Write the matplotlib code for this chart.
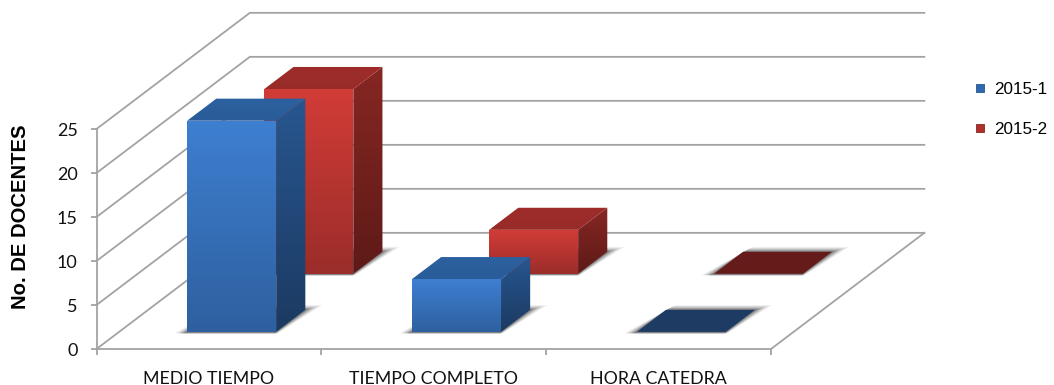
import numpy as np
import matplotlib
matplotlib.use("Agg")
import matplotlib.pyplot as plt
from matplotlib.lines import Line2D
from matplotlib.patches import Polygon

categories = ["MEDIO TIEMPO", "TIEMPO COMPLETO", "HORA CATEDRA"]
series_names = ["2015-1", "2015-2"]
values_2015_1 = [24, 6, 0]
values_2015_2 = [21, 5, 0]
y_ticks = [0, 5, 10, 15, 20, 25]

# depth of the 3d box, in data units
DX = 0.682
DY = 13.2
GRID = "#a3a3a3"

fig = plt.figure(figsize=(10.54, 3.85), dpi=100)
ax = fig.add_axes([96.5 / 1054, 36 / 385, 674.5 / 1054, 220 / 385])
ax.set_xlim(0, 3)
ax.set_ylim(0, 25)


def proj(x, depth, y):
    return (x + depth * DX, y + depth * DY)


def face(points, colors, z):
    """polygon filled with a vertical gradient, colors go bottom to top"""
    poly = Polygon(points, closed=True, transform=ax.transData, fc="none", ec="none")
    ax.add_patch(poly)
    poly.set_clip_on(False)
    xs = [p[0] for p in points]
    ys = [p[1] for p in points]
    c0 = np.array(matplotlib.colors.to_rgb(colors[0]))
    c1 = np.array(matplotlib.colors.to_rgb(colors[1]))
    t = np.linspace(0, 1, 64)[:, None]
    grad = (c0 + (c1 - c0) * t)[:, None, :]
    im = ax.imshow(grad, extent=(min(xs), max(xs), min(ys), max(ys)), origin="lower",
                   aspect="auto", zorder=z, interpolation="bilinear")
    im.set_clip_box(fig.bbox)
    im.set_clip_path(poly)


def shadow(x, depth, w, d, z):
    # soft shadow made from a few stacked parallelograms
    for grow, alpha in zip([0.06, 0.048, 0.036, 0.024, 0.012], [0.07, 0.1, 0.14, 0.2, 0.28]):
        pts = [proj(x - grow * 0.8, depth - 0.012, 0), proj(x + w + grow * 0.25, depth - 0.012, 0),
               proj(x + w + grow * 0.8, depth + d + grow * 0.7, 0), proj(x + grow * 0.25, depth + d + grow * 0.7, 0)]
        ax.add_patch(Polygon(pts, closed=True, fc="#303030", ec="none", alpha=alpha,
                             zorder=z, clip_on=False))


def bar3d(x, depth, w, d, h, pal, z):
    shadow(x, depth, w, d, z)
    if h == 0:
        pts = [proj(x, depth, 0), proj(x + w, depth, 0), proj(x + w, depth + d, 0), proj(x, depth + d, 0)]
        ax.add_patch(Polygon(pts, closed=True, fc=pal["flat"], ec="none", zorder=z + 0.1, clip_on=False))
        return
    face([proj(x + w, depth, 0), proj(x + w, depth + d, 0), proj(x + w, depth + d, h), proj(x + w, depth, h)],
         pal["side"], z + 0.1)
    face([proj(x, depth, h), proj(x + w, depth, h), proj(x + w, depth + d, h), proj(x, depth + d, h)],
         pal["top"], z + 0.2)
    face([proj(x, depth, 0), proj(x + w, depth, 0), proj(x + w, depth, h), proj(x, depth, h)],
         pal["front"], z + 0.3)


blue = {"front": ("#2e609f", "#3e7fd1"), "side": ("#1c3a62", "#27568f"),
        "top": ("#295c99", "#2c619f"), "flat": "#1d3b63"}
red = {"front": ("#9b2d2a", "#d23c37"), "side": ("#5e1a18", "#862723"),
       "top": ("#982b28", "#9e2d2a"), "flat": "#641b19"}

# walls and floor
for v in y_ticks:
    ax.plot(*zip(proj(0, 0, v), proj(0, 1, v), proj(3, 1, v)), color=GRID, lw=1.3,
            clip_on=False, zorder=1, solid_joinstyle="miter")
ax.plot(*zip(proj(3, 0, 0), proj(3, 1, 0)), color=GRID, lw=1.3, clip_on=False, zorder=1)

# bars, back series first
bar_w = 0.396
bar_d = 0.19
for i, h in enumerate(values_2015_2):
    bar3d(i + 0.305, 0.647, bar_w, bar_d, h, red, 3 + i)
for i, h in enumerate(values_2015_1):
    bar3d(i + 0.303, 0.147, bar_w, bar_d, h, blue, 10 + i)

ax.set_xlim(0, 3)
ax.set_ylim(0, 25)
ax.patch.set_visible(False)
for s in ["top", "right"]:
    ax.spines[s].set_visible(False)
for s in ["left", "bottom"]:
    ax.spines[s].set_color(GRID)
    ax.spines[s].set_linewidth(1.3)

ax.set_yticks(y_ticks)
ax.set_xticks([0, 1, 2, 3])
ax.set_xticklabels([])
ax.set_xticks([0.5, 1.5, 2.5], categories, minor=True, fontname="Lato", fontsize=12.8, color="#111111")
ax.tick_params(axis="x", which="minor", length=0, pad=15.5)
ax.tick_params(axis="x", which="major", length=4.5, width=1.3, color=GRID)
ax.tick_params(axis="y", length=4.5, width=1.3, color=GRID, pad=9, labelsize=13, labelcolor="#111111")
for lab in ax.get_yticklabels():
    lab.set_fontname("Lato")

fig.text(21 / 1054, 1 - 217 / 385, "No. DE DOCENTES", rotation=90, ha="center", va="center",
         fontname="Liberation Sans", fontweight="bold", fontsize=14.6, color="black")

handles = [Line2D([], [], ls="none", marker="s", ms=6.2, mfc="#2f68ad", mec="#27568f", mew=0.6),
           Line2D([], [], ls="none", marker="s", ms=6.2, mfc="#b0302c", mec="#862723", mew=0.6)]
leg = fig.legend(handles, series_names, loc="center left", bbox_to_anchor=(968.5 / 1054, 1 - 109.5 / 385),
                 frameon=False, labelspacing=1.44, handletextpad=0.1, handlelength=1.4, borderpad=0, borderaxespad=0,
                 prop={"family": "Liberation Sans", "size": 12.3})

fig.savefig("out.png", dpi=100)
